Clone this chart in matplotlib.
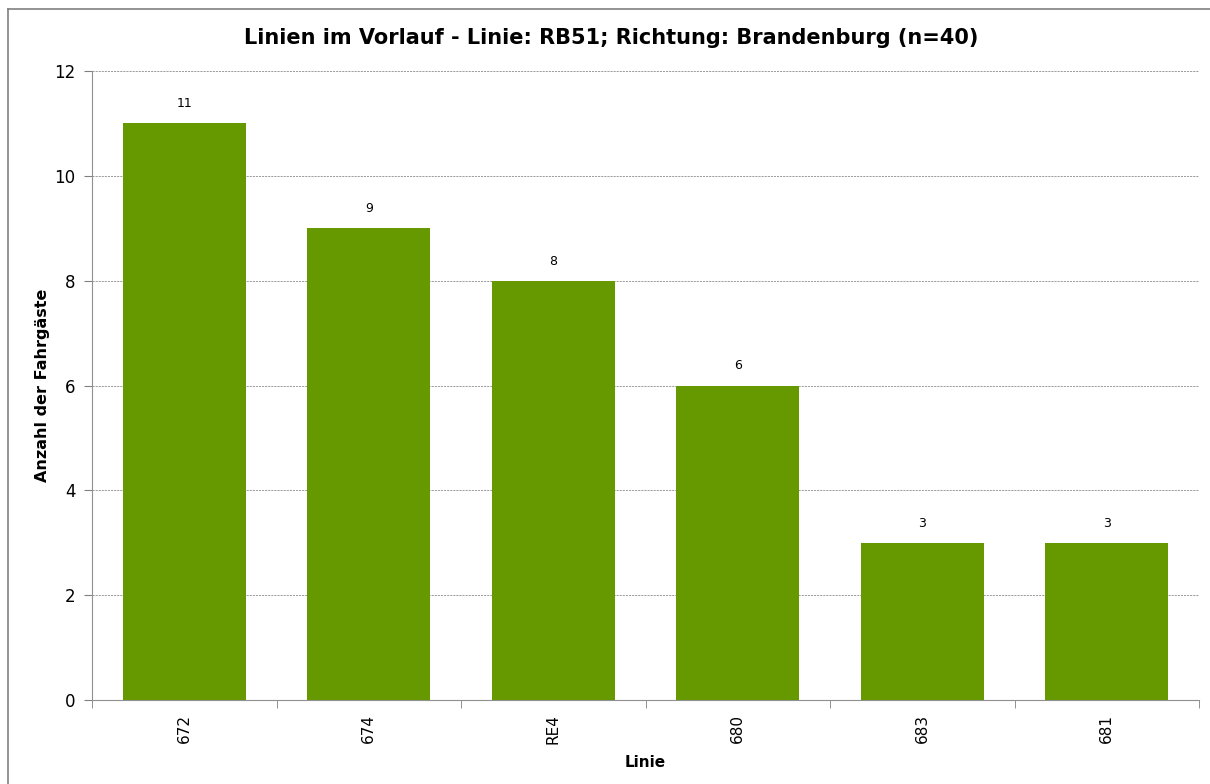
import numpy as np
import matplotlib.pyplot as plt
from matplotlib.lines import Line2D

linien = ["672", "674", "RE4", "680", "683", "681"]
anzahl = [11, 9, 8, 6, 3, 3]
y_ticks = [0, 2, 4, 6, 8, 10, 12]

fig = plt.figure(figsize=(12.1, 7.84), dpi=100)
ax = fig.add_axes([92 / 1210, 1 - 700 / 784, (1199 - 92) / 1210, (700 - 71) / 784])

x = np.arange(len(linien))
bars = ax.bar(x, anzahl, width=0.667, color="#669900", zorder=3)

for b, v in zip(bars, anzahl):
	ax.text(b.get_x() + b.get_width() / 2, v + 0.25, str(v), ha="center", va="bottom", fontsize=9)

ax.set_xlim(-0.5, len(linien) - 0.5)
ax.set_ylim(0, 12)
ax.set_yticks(y_ticks)
ax.set_xticks(x)
ax.set_xticklabels(linien, rotation=90, fontsize=11)
ax.tick_params(axis="x", which="major", length=0, pad=10)
ax.set_xticks(np.arange(-0.5, len(linien)), minor=True)
ax.tick_params(axis="x", which="minor", length=6, color="#808080", direction="out")
ax.tick_params(axis="y", length=6, color="#808080", labelsize=12, pad=6)

for yv in y_ticks[1:]:
	ax.axhline(yv, color="#8c8c8c", linestyle=(0, (2.5, 1.2)), linewidth=0.6, zorder=1)

for s in ["top", "right"]:
	ax.spines[s].set_visible(False)
for s in ["left", "bottom"]:
	ax.spines[s].set_color("#909090")

ax.set_ylabel("Anzahl der Fahrgäste", fontweight="bold", fontsize=11.5, labelpad=3)
ax.set_xlabel("Linie", fontweight="bold", fontsize=11, labelpad=8)
fig.suptitle("Linien im Vorlauf - Linie: RB51; Richtung: Brandenburg (n=40)",
	fontweight="bold", fontsize=15, x=611 / 1210, y=1 - 38 / 784, va="center")

# Rahmen um das Diagramm
fig.add_artist(Line2D([8 / 1210, 8 / 1210], [0, 1 - 9 / 784], color="#808080", linewidth=1.2))
fig.add_artist(Line2D([8 / 1210, 1], [1 - 9 / 784, 1 - 9 / 784], color="#808080", linewidth=1.2))

fig.savefig("out.png", dpi=100)
